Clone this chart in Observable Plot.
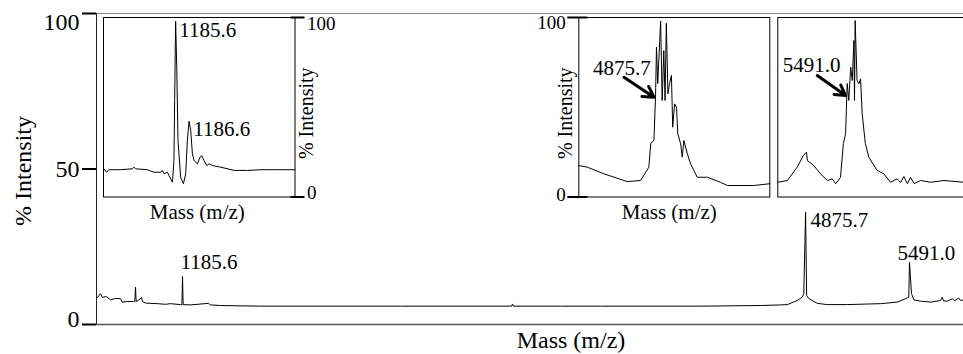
<!DOCTYPE html>
<html><head><meta charset="utf-8">
<script src="https://cdn.jsdelivr.net/npm/d3@7"></script>
<script src="https://cdn.jsdelivr.net/npm/@observablehq/plot@0.6"></script>
<style>
html,body{margin:0;padding:0;background:#fff;}
#chart{position:relative;width:963px;height:354px;overflow:hidden;background:#fff;}
</style></head><body><div id="chart"></div>
<script>
// ---------- DATA ----------
const yTicks = [0, 50, 100];
const insetTicks = [0, 100];
const mainDomain = [676, 5811];
const mainMz = [680,700,712,735,759,789,818,828,860,895,903,907,911,927,943,948,966,996,1036,1085,1114,1173,1182,1185.6,1189,1233,1339,1351,1410,1647,1884,2180,2477,2773,3134,3140,3146,3424,3661,3957,4253,4609,4727,4767,4826,4856,4865,4875.7,4882,4895,4915,4945,5004,5122,5320,5419,5468,5487,5491.0,5503,5517,5557,5616,5675,5685,5693,5715,5746,5758,5782,5794,5811];
const mainPct = [8.6,9.9,8.7,9.0,7.9,8.4,8.3,7.2,7.4,7.4,7.4,12.0,7.4,7.9,8.7,7.4,6.9,6.8,6.7,6.5,6.7,6.4,6.4,15.4,6.4,6.3,6.8,6.3,6.1,5.9,5.9,5.9,5.9,5.9,5.9,6.6,5.9,5.9,5.9,5.9,5.9,6.1,6.3,6.4,7.7,8.8,9.9,36.1,9.3,8.3,7.7,6.8,6.4,6.4,6.7,7.2,8.3,8.8,20.0,10.0,7.9,7.5,7.2,7.7,8.8,7.6,7.5,8.3,7.6,8.5,7.7,7.9];
const mainPeakLabels = ["1185.6", "4875.7", "5491.0"];
const mainPeakMz = [1185.6, 4875.7, 5491.0];
const mainPeakPct = [15.4, 36.1, 20.0];

const inset1Domain = [1180.5, 1194.2];
const inset1Mz = [1180.52,1180.72,1180.88,1181.72,1182.56,1182.67,1182.80,1183.63,1184.11,1184.59,1184.71,1184.83,1185.07,1185.18,1185.43,1185.54,1185.59,1185.66,1185.74,1185.83,1186.02,1186.22,1186.38,1186.50,1186.62,1186.74,1186.86,1186.98,1187.22,1187.41,1187.53,1187.69,1187.89,1188.05,1188.30,1188.89,1189.85,1190.81,1191.76,1192.72,1194.2];
const inset1Pct = [15.7,13.8,15.2,15.2,15.7,16.6,15.7,15.2,13.8,13.8,14.8,12.9,13.8,12.0,8.2,20.3,53.8,97.9,72.3,31.5,11.0,7.4,12.9,31.5,42.2,37.0,24.1,20.3,18.5,22.2,23.1,20.3,17.5,18.5,17.5,16.6,14.8,14.8,15.2,15.2,15.2];
const inset1Labels = ["1185.6", "1186.6"];
const inset1LabelMz = [1185.6, 1186.6];
const inset1LabelPct = [97.9, 42.2];

const inset2Domain = [4852.1, 4912.1];
const inset2Mz = [4852.2,4854.8,4860.0,4867.3,4871.5,4874.1,4874.7,4875.7,4876.2,4876.5,4876.9,4877.8,4878.3,4878.8,4879.2,4879.6,4880.1,4880.6,4881.2,4881.6,4882.2,4882.8,4883.2,4884.1,4884.6,4885.1,4886.2,4887.2,4889.3,4892.5,4896.6,4898.8,4907.1,4912.1];
const inset2Pct = [17.5,16.6,12.9,8.6,9.2,16.6,29.8,31.5,55.6,83.5,63.2,97.9,53.8,81.6,53.8,96.8,57.5,63.1,67.7,38.9,51.9,50.0,35.2,29.6,22.2,31.5,24.1,18.5,11.0,11.0,8.2,6.4,6.4,7.4];
const inset2Label = {text: "4875.7", mz: 4865.6, pct: 71.6};
const inset2Arrow = {x1: 4866.3, y1: 66.7, x2: 4875.7, y2: 55.6};

const inset3Domain = [5469.7, 5529.7];
const inset3Mz = [5469.8,5472.7,5475.8,5477.7,5478.7,5479.0,5481.0,5483.1,5485.3,5486.8,5487.9,5489.4,5490.3,5491.0,5491.5,5492.0,5492.6,5493.1,5493.6,5493.8,5494.0,5494.6,5495.2,5495.7,5496.2,5497.2,5498.3,5500.9,5503.0,5505.1,5507.2,5508.3,5509.3,5510.4,5511.4,5512.5,5514.6,5517.7,5521.9,5528.2];
const inset3Pct = [8.2,9.2,16.6,23.1,25.0,20.3,17.5,12.9,9.2,10.1,7.4,11.0,29.8,35.4,63.2,53.8,72.3,64.9,87.2,53.8,98.3,64.9,63.1,65.8,46.5,29.8,22.2,14.8,12.9,8.2,10.1,8.1,11.4,7.4,10.9,7.5,9.2,8.2,9.2,8.2];
const inset3Label = {text: "5491.0", mz: 5480.3, pct: 73.3};
const inset3Arrow = {x1: 5482.1, y1: 67.7, x2: 5491.0, y2: 56.5};

const yLabel = "% Intensity";
const xLabel = "Mass (m/z)";

// ---------- RENDER ----------
const FONT = '"Liberation Serif", "Times New Roman", serif';
const baseStyle = {fontFamily: FONT, background: "transparent", overflow: "visible", maxWidth: "none", color: "black"};
const T = {fontFamily: FONT, fill: "black"};
const chart = document.getElementById("chart");
const zip = (a, b) => a.map((m, i) => ({mz: m, pct: b[i]}));
function place(svg, left, top) {
  svg.style.position = "absolute";
  svg.style.left = left + "px";
  svg.style.top = top + "px";
  svg.style.fontFamily = FONT;
  chart.appendChild(svg);
}

// main chart
const W = 963, H = 354, mL = 96, mR = 0, mT = 13, mB = 30;
const fw = W - mL - mR;
const main = Plot.plot({
  width: W, height: H, marginLeft: mL, marginRight: mR, marginTop: mT, marginBottom: mB,
  style: baseStyle,
  x: {domain: mainDomain, axis: null},
  y: {domain: [0, 100], axis: null},
  marks: [
    Plot.ruleY([0], {stroke: "#555", strokeWidth: 1.3}),
    Plot.ruleY([100], {stroke: "#888", strokeWidth: 1}),
    Plot.ruleX([mainDomain[0]], {stroke: "#222", strokeWidth: 1}),
    Plot.tickY(yTicks, {y: d => d, insetLeft: -14, insetRight: fw, strokeWidth: 2, stroke: "black"}),
    ...yTicks.map(t => Plot.text([t], {...T, y: d => d, text: d => String(d), frameAnchor: "left", dx: -17, dy: t === 100 ? 9 : (t === 0 ? -5 : 0), textAnchor: "end", lineAnchor: "middle", fontSize: 24})),
    Plot.line(zip(mainMz, mainPct), {x: "mz", y: "pct", stroke: "black", strokeWidth: 1}),
    Plot.text([0], {...T, x: () => mainPeakMz[0], y: () => mainPeakPct[0], text: () => mainPeakLabels[0], dx: -2, dy: -14, textAnchor: "start", fontSize: 21}),
    Plot.text([1], {...T, x: () => mainPeakMz[1], y: () => mainPeakPct[1], text: () => mainPeakLabels[1], dx: 5, dy: 8, textAnchor: "start", fontSize: 21}),
    Plot.text([2], {...T, x: () => mainPeakMz[2], y: () => mainPeakPct[2], text: () => mainPeakLabels[2], dx: -12, dy: -9, textAnchor: "start", fontSize: 21}),
    Plot.text([yLabel], {...T, frameAnchor: "left", dx: -73, dy: 2, rotate: -90, textAnchor: "middle", lineAnchor: "middle", fontSize: 24}),
    Plot.text([xLabel], {...T, frameAnchor: "bottom", dx: 41, dy: 16, textAnchor: "middle", lineAnchor: "middle", fontSize: 24})
  ]
});
place(main, 0, 0);

// insets
const IH = 230, IT = 17, IB = 33.5;
function inset({left, width, marginLeft, marginRight, domain, data, marks}) {
  const p = Plot.plot({
    width, height: IH, marginLeft, marginRight, marginTop: IT, marginBottom: IB,
    style: baseStyle,
    x: {domain, axis: null},
    y: {domain: [0, 100], axis: null},
    marks: [
      Plot.frame({stroke: "black", strokeWidth: 1}),
      Plot.line(data, {x: "mz", y: "pct", stroke: "black", strokeWidth: 1}),
      ...marks
    ]
  });
  place(p, left, 0);
}

// inset 1 (right axis)
{
  const left = 40, width = 320, marginLeft = 63, marginRight = 65.5;
  const ifw = width - marginLeft - marginRight;
  inset({left, width, marginLeft, marginRight, domain: inset1Domain, data: zip(inset1Mz, inset1Pct), marks: [
    Plot.tickY(insetTicks, {y: d => d, insetLeft: ifw - 4, insetRight: -10, strokeWidth: 2, stroke: "black"}),
    ...insetTicks.map(t => Plot.text([t], {...T, y: d => d, text: d => String(d), frameAnchor: "right", dx: 12, dy: t === 100 ? 6 : -4, textAnchor: "start", lineAnchor: "middle", fontSize: 19})),
    Plot.text([yLabel], {...T, frameAnchor: "right", dx: 12, dy: 6, rotate: -90, textAnchor: "middle", lineAnchor: "middle", fontSize: 20}),
    Plot.text([xLabel], {...T, frameAnchor: "bottom", dx: -2, dy: 15.5, textAnchor: "middle", lineAnchor: "middle", fontSize: 21}),
    Plot.text(inset1Labels.map((t, i) => ({t, mz: inset1LabelMz[i], pct: inset1LabelPct[i]})), {...T, x: "mz", y: "pct", text: "t", dx: 4.5, dy: 8.5, textAnchor: "start", fontSize: 21})
  ]});
}

// inset 2 (left axis)
{
  const left = 520, width = 260, marginLeft = 58.3, marginRight = 10.7;
  const ifw = width - marginLeft - marginRight;
  inset({left, width, marginLeft, marginRight, domain: inset2Domain, data: zip(inset2Mz, inset2Pct), marks: [
    Plot.tickY(insetTicks, {y: d => d, insetLeft: -11, insetRight: ifw - 9, strokeWidth: 2, stroke: "black"}),
    ...insetTicks.map(t => Plot.text([t], {...T, y: d => d, text: d => String(d), frameAnchor: "left", dx: -13, dy: t === 100 ? 5 : -2, textAnchor: "end", lineAnchor: "middle", fontSize: 19})),
    Plot.text([yLabel], {...T, frameAnchor: "left", dx: -13, dy: 6, rotate: -90, textAnchor: "middle", lineAnchor: "middle", fontSize: 20}),
    Plot.text([xLabel], {...T, frameAnchor: "bottom", dx: -5, dy: 15.5, textAnchor: "middle", lineAnchor: "middle", fontSize: 21}),
    Plot.arrow([inset2Arrow], {x1: "x1", y1: "y1", x2: "x2", y2: "y2", stroke: "black", strokeWidth: 3, headLength: 10, insetEnd: 0, insetStart: 0}),
    Plot.text([inset2Label], {...T, x: "mz", y: "pct", text: "text", fontSize: 21})
  ]});
}

// inset 3 (no axis, runs off right edge)
{
  const left = 770, width = 200, marginLeft = 7.3, marginRight = 1.7;
  inset({left, width, marginLeft, marginRight, domain: inset3Domain, data: zip(inset3Mz, inset3Pct), marks: [
    Plot.arrow([inset3Arrow], {x1: "x1", y1: "y1", x2: "x2", y2: "y2", stroke: "black", strokeWidth: 3, headLength: 10, insetEnd: 0, insetStart: 0}),
    Plot.text([inset3Label], {...T, x: "mz", y: "pct", text: "text", fontSize: 21})
  ]});
}
</script></body></html>
